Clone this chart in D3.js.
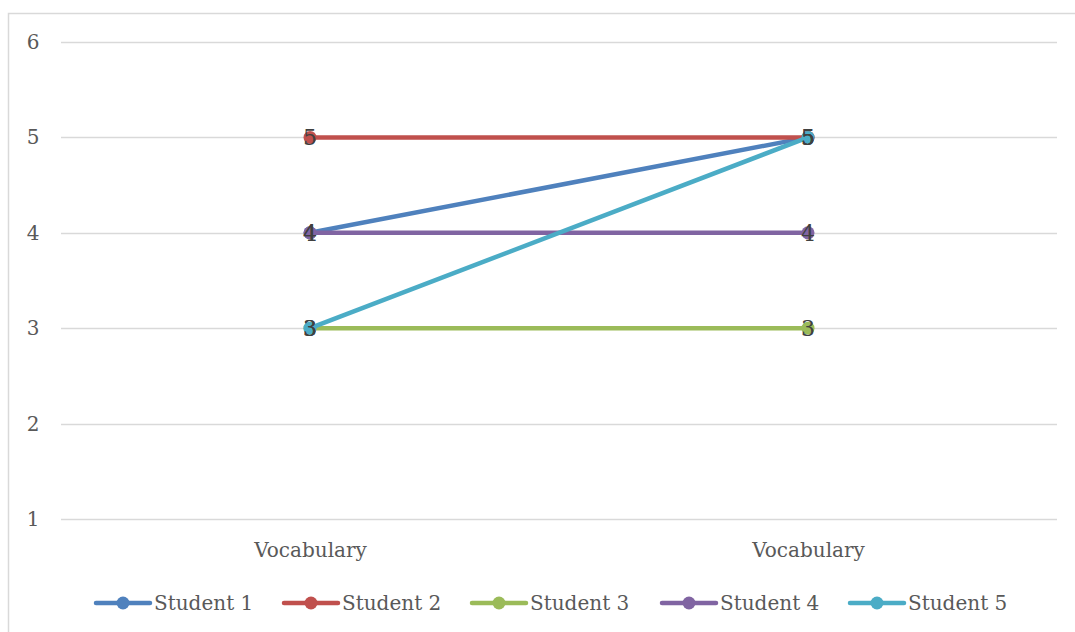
<!DOCTYPE html>
<html>
<head>
<meta charset="utf-8">
<script src="https://cdn.jsdelivr.net/npm/d3@7/dist/d3.min.js"></script>
<style>
  html, body { margin: 0; padding: 0; background: #fff; }
  svg { display: block; }
  text { font-family: "DejaVu Serif", "Liberation Serif", serif; }
</style>
</head>
<body>
<script>
// Chart data
const categories = ["Vocabulary", "Vocabulary"];
const seriesNames = ["Student 1", "Student 2", "Student 3", "Student 4", "Student 5"];
const seriesValues = [
  [4, 5],
  [5, 5],
  [3, 3],
  [4, 4],
  [3, 5]
];
const seriesColors = ["#4F81BD", "#C0504D", "#9BBB59", "#8064A2", "#4BACC6"];
const yTicks = [1, 2, 3, 4, 5, 6];

const W = 1075, H = 632;
const plot = { left: 61, right: 1057, top: 42, bottom: 519 };
const FONT = "DejaVu Serif, Liberation Serif, serif";

const svg = d3.select("body").append("svg")
  .attr("width", W).attr("height", H);

// Chart-area frame
svg.append("path")
  .attr("d", `M8.5,${H} L8.5,13.5 L${W},13.5`)
  .attr("fill", "none").attr("stroke", "#d9d9d9").attr("stroke-width", 1.5);

const x = d3.scalePoint()
  .domain(d3.range(categories.length))
  .range([plot.left, plot.right])
  .padding(0.5);

const y = d3.scaleLinear()
  .domain([1, 6])
  .range([plot.bottom, plot.top]);

// Gridlines
svg.append("g").selectAll("line").data(yTicks).join("line")
  .attr("x1", plot.left).attr("x2", plot.right)
  .attr("y1", d => Math.round(y(d)) + 0.5).attr("y2", d => Math.round(y(d)) + 0.5)
  .attr("stroke", "#d9d9d9").attr("stroke-width", 1.5);

// Y axis labels
const yAxis = d3.axisLeft(y).tickValues(yTicks).tickFormat(d3.format("d")).tickSize(0).tickPadding(0);
const gy = svg.append("g").attr("transform", `translate(33,0)`).call(yAxis);
gy.select(".domain").remove();
gy.selectAll("text")
  .attr("font-size", 20).attr("fill", "#595959")
  .attr("font-family", FONT)
  .attr("text-anchor", "middle").attr("x", 0);

// X axis labels
const xAxis = d3.axisBottom(x).tickFormat(i => categories[i]).tickSize(0).tickPadding(0);
const gx = svg.append("g").attr("transform", `translate(0,543)`).call(xAxis);
gx.select(".domain").remove();
gx.selectAll("text")
  .attr("font-size", 20).attr("fill", "#595959")
  .attr("font-family", FONT);

// Series lines
const line = d3.line().x((d, i) => x(i)).y(d => y(d));
const series = seriesNames.map((name, k) => ({ name, values: seriesValues[k], color: seriesColors[k] }));

const gSeries = svg.append("g").selectAll("g").data(series).join("g");
gSeries.append("path")
  .attr("d", d => line(d.values))
  .attr("fill", "none")
  .attr("stroke", d => d.color)
  .attr("stroke-width", 4.5)
  .attr("stroke-linecap", "round");
gSeries.selectAll("circle").data(d => d.values.map(v => ({ v, color: d.color }))).join("circle")
  .attr("cx", (d, i) => x(i)).attr("cy", d => y(d.v))
  .attr("r", 6.5).attr("fill", d => d.color);

// Data labels
const gLabels = svg.append("g");
series.forEach(s => {
  s.values.forEach((v, i) => {
    gLabels.append("text")
      .attr("x", x(i)).attr("y", y(v))
      .attr("dy", "0.36em")
      .attr("text-anchor", "middle")
      .attr("font-size", 22)
      .attr("fill", "#404040")
      .text(v);
  });
});

// Legend
const legendX = [96, 284, 472, 662, 850];
const legendY = 603;
const lg = svg.append("g").selectAll("g").data(series).join("g")
  .attr("transform", (d, i) => `translate(${legendX[i]},${legendY})`);
lg.append("line")
  .attr("x1", 0).attr("x2", 54).attr("y1", 0).attr("y2", 0)
  .attr("stroke", d => d.color).attr("stroke-width", 4.5).attr("stroke-linecap", "round");
lg.append("circle").attr("cx", 27).attr("cy", 0).attr("r", 6.5).attr("fill", d => d.color);
lg.append("text")
  .attr("x", 58).attr("y", 0).attr("dy", "0.35em")
  .attr("font-size", 20).attr("fill", "#595959")
  .text(d => d.name);
</script>
</body>
</html>
